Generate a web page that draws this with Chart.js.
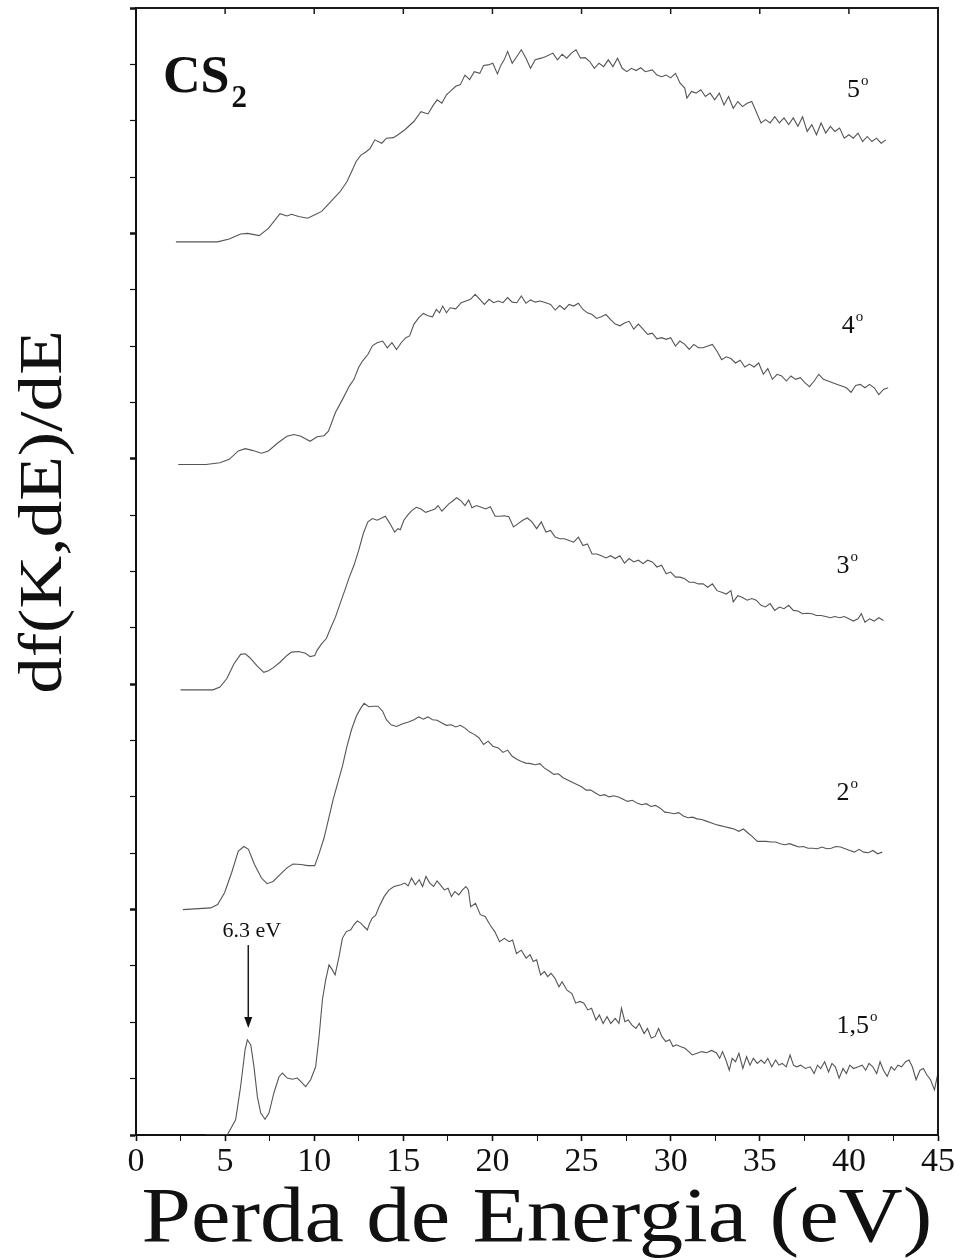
<!DOCTYPE html>
<html>
<head>
<meta charset="utf-8">
<script src="https://cdn.jsdelivr.net/npm/chart.js@4.4.0/dist/chart.umd.min.js"></script>
<style>
  html, body { margin: 0; padding: 0; background: #fff; }
  #c { display: block; }
</style>
</head>
<body>
<canvas id="c" width="955" height="1260"></canvas>
<script>
// spectra: [energy loss (eV), df/dE above own baseline]
var curve15 = [[3.9,0],[5.12,0],[5.59,0.27],[5.87,0.86],[6.12,1.51],[6.25,1.69],[6.44,1.6],[6.62,1.21],[6.81,0.68],[7.0,0.39],[7.24,0.28],[7.46,0.39],[7.74,0.75],[8.02,1.03],[8.21,1.1],[8.49,1.01],[8.77,0.99],[9.05,1.01],[9.24,0.95],[9.52,0.86],[9.8,0.98],[10.08,1.21],[10.27,1.74],[10.46,2.4],[10.64,2.75],[10.83,3.02],[11.02,2.93],[11.17,2.84],[11.39,3.16],[11.58,3.49],[11.8,3.61],[12.05,3.64],[12.23,3.73],[12.42,3.8],[12.61,3.76],[12.79,3.7],[12.98,3.64],[13.11,3.76],[13.26,3.85],[13.45,3.9],[13.64,4.05],[13.92,4.23],[14.2,4.35],[14.48,4.41],[14.86,4.44],[15.08,4.47],[15.27,4.42],[15.46,4.56],[15.67,4.44],[15.89,4.53],[16.08,4.41],[16.27,4.59],[16.48,4.47],[16.7,4.41],[16.89,4.51],[17.08,4.44],[17.3,4.35],[17.51,4.38],[17.7,4.23],[17.89,4.32],[18.11,4.26],[18.32,4.35],[18.51,4.41],[18.65,4.35],[18.78,4.05],[19.05,4.11],[19.32,3.91],[19.59,3.88],[19.86,3.73],[20.13,3.61],[20.4,3.43],[20.67,3.49],[20.94,3.43],[21.13,3.46],[21.35,3.22],[21.62,3.28],[21.89,3.14],[22.11,3.2],[22.29,3.08],[22.48,3.11],[22.7,2.84],[22.92,2.9],[23.1,2.81],[23.29,2.87],[23.51,2.78],[23.73,2.63],[23.91,2.72],[24.18,2.57],[24.46,2.51],[24.67,2.34],[24.91,2.37],[25.13,2.34],[25.35,2.22],[25.56,2.25],[25.81,2.04],[26.0,2.13],[26.21,1.98],[26.43,2.1],[26.64,1.98],[26.89,2.07],[27.1,1.98],[27.24,2.25],[27.43,2.01],[27.62,2.04],[27.83,1.95],[28.05,1.89],[28.24,1.98],[28.51,1.8],[28.7,1.89],[28.91,1.72],[29.13,1.75],[29.32,1.89],[29.51,1.75],[29.72,1.66],[29.94,1.69],[30.13,1.57],[30.32,1.6],[30.54,1.57],[30.8,1.54],[31.02,1.48],[31.21,1.42],[31.48,1.45],[31.75,1.48],[32.02,1.46],[32.29,1.5],[32.56,1.46],[32.75,1.36],[32.91,1.48],[33.1,1.33],[33.29,1.15],[33.45,1.36],[33.64,1.3],[33.83,1.45],[34.05,1.18],[34.26,1.39],[34.45,1.24],[34.64,1.36],[34.86,1.27],[35.07,1.33],[35.26,1.27],[35.45,1.36],[35.67,1.21],[35.89,1.33],[36.07,1.24],[36.26,1.27],[36.48,1.21],[36.7,1.42],[36.89,1.24],[37.07,1.21],[37.29,1.24],[37.56,1.18],[37.83,1.21],[38.05,1.09],[38.24,1.24],[38.42,1.18],[38.64,1.3],[38.86,1.12],[39.05,1.27],[39.24,1.21],[39.45,1.01],[39.67,1.18],[39.86,1.09],[40.05,1.24],[40.26,1.18],[40.53,1.21],[40.75,1.24],[40.94,1.15],[41.13,1.27],[41.34,1.21],[41.56,1.09],[41.75,1.3],[41.94,1.15],[42.15,1.04],[42.37,1.21],[42.56,1.15],[42.75,1.24],[42.96,1.21],[43.18,1.3],[43.37,1.33],[43.56,1.21],[43.77,0.98],[43.99,1.15],[44.18,1.18],[44.37,1.07],[44.58,0.98],[44.8,0.8],[44.99,1.09]];

var curve2 = [[2.63,0],[4.19,0.03],[4.58,0.09],[4.97,0.3],[5.36,0.65],[5.74,1.04],[6.06,1.12],[6.31,1.07],[6.65,0.8],[7.04,0.56],[7.35,0.46],[7.69,0.5],[8.08,0.62],[8.47,0.74],[8.81,0.81],[9.25,0.8],[9.64,0.78],[10.03,0.78],[10.29,1.01],[10.55,1.27],[10.8,1.6],[11.06,1.95],[11.32,2.25],[11.58,2.54],[11.84,2.9],[12.1,3.2],[12.36,3.43],[12.62,3.58],[12.8,3.66],[13.06,3.6],[13.32,3.61],[13.58,3.61],[13.84,3.52],[14.05,3.37],[14.31,3.28],[14.62,3.25],[14.96,3.3],[15.29,3.33],[15.6,3.37],[15.86,3.42],[16.12,3.38],[16.38,3.42],[16.64,3.37],[16.9,3.36],[17.16,3.31],[17.42,3.27],[17.68,3.28],[17.94,3.24],[18.2,3.27],[18.46,3.22],[18.72,3.15],[18.98,3.11],[19.24,3.05],[19.5,2.93],[19.76,2.99],[20.02,2.9],[20.33,2.87],[20.59,2.79],[20.85,2.83],[21.11,2.72],[21.37,2.67],[21.62,2.63],[21.88,2.6],[22.14,2.59],[22.4,2.57],[22.66,2.59],[22.92,2.51],[23.18,2.46],[23.44,2.4],[23.7,2.41],[23.96,2.34],[24.22,2.3],[24.48,2.26],[24.74,2.22],[25.0,2.18],[25.26,2.12],[25.52,2.12],[25.78,2.07],[26.04,2.02],[26.29,2.04],[26.55,2.0],[26.81,2.02],[27.07,2.0],[27.33,1.96],[27.59,1.92],[27.85,1.94],[28.11,1.89],[28.37,1.86],[28.63,1.88],[28.89,1.83],[29.15,1.85],[29.41,1.8],[29.67,1.73],[29.93,1.72],[30.19,1.7],[30.45,1.72],[30.71,1.66],[30.97,1.63],[31.23,1.64],[31.48,1.61],[31.74,1.6],[32.0,1.57],[32.26,1.54],[32.52,1.51],[32.78,1.49],[33.04,1.47],[33.3,1.45],[33.56,1.43],[33.82,1.39],[34.08,1.43],[34.34,1.36],[34.6,1.29],[34.86,1.21],[35.11,1.21],[35.37,1.21],[35.63,1.2],[35.89,1.2],[36.15,1.17],[36.41,1.15],[36.67,1.17],[36.93,1.14],[37.19,1.11],[37.45,1.12],[37.71,1.09],[37.97,1.09],[38.23,1.08],[38.49,1.11],[38.75,1.08],[39.01,1.09],[39.27,1.12],[39.53,1.11],[39.79,1.08],[40.05,1.05],[40.31,1.02],[40.57,1.07],[40.83,1.02],[41.09,1.01],[41.35,1.05],[41.61,0.99],[41.87,1.02]];

var curve3 = [[2.5,0],[4.32,0],[4.71,0.05],[5.1,0.2],[5.49,0.46],[5.87,0.63],[6.13,0.64],[6.39,0.57],[6.78,0.43],[7.17,0.31],[7.43,0.34],[7.69,0.39],[8.08,0.49],[8.47,0.61],[8.73,0.67],[9.12,0.68],[9.51,0.65],[9.77,0.59],[10.03,0.61],[10.16,0.7],[10.42,0.82],[10.68,0.91],[10.94,1.11],[11.19,1.29],[11.45,1.53],[11.71,1.76],[11.97,2.0],[12.23,2.21],[12.49,2.47],[12.75,2.77],[13.01,2.98],[13.27,3.04],[13.53,3.01],[13.79,3.05],[13.99,3.08],[14.25,2.95],[14.51,2.8],[14.7,2.86],[14.83,2.84],[15.03,3.01],[15.22,3.09],[15.47,3.18],[15.73,3.24],[15.99,3.21],[16.25,3.15],[16.51,3.18],[16.77,3.21],[16.95,3.27],[17.16,3.17],[17.37,3.24],[17.55,3.3],[17.81,3.36],[17.99,3.41],[18.25,3.35],[18.46,3.27],[18.67,3.37],[18.85,3.23],[19.11,3.27],[19.37,3.24],[19.63,3.21],[19.88,3.25],[20.15,3.08],[20.41,3.08],[20.66,3.09],[20.92,3.07],[21.18,2.89],[21.44,2.95],[21.7,3.01],[21.96,3.05],[22.22,2.98],[22.48,2.86],[22.74,2.98],[23.0,2.8],[23.26,2.83],[23.52,2.71],[23.78,2.68],[24.04,2.68],[24.3,2.65],[24.56,2.62],[24.82,2.71],[25.08,2.56],[25.33,2.59],[25.59,2.41],[25.85,2.41],[26.11,2.38],[26.37,2.34],[26.63,2.38],[26.89,2.33],[27.15,2.38],[27.41,2.25],[27.67,2.33],[27.93,2.27],[28.19,2.3],[28.45,2.24],[28.71,2.3],[28.97,2.27],[29.23,2.18],[29.49,2.21],[29.75,2.06],[30.0,2.09],[30.27,2.0],[30.52,2.0],[30.79,1.97],[31.04,1.91],[31.3,1.91],[31.56,1.88],[31.82,1.88],[32.08,1.82],[32.34,1.88],[32.6,1.76],[32.86,1.73],[33.12,1.7],[33.38,1.76],[33.51,1.56],[33.77,1.67],[34.03,1.64],[34.29,1.59],[34.55,1.62],[34.8,1.59],[35.07,1.5],[35.32,1.47],[35.58,1.53],[35.84,1.41],[36.1,1.47],[36.36,1.44],[36.62,1.5],[36.88,1.41],[37.14,1.4],[37.4,1.35],[37.66,1.36],[37.92,1.35],[38.18,1.32],[38.44,1.32],[38.7,1.3],[38.96,1.28],[39.21,1.3],[39.48,1.28],[39.74,1.3],[40.0,1.26],[40.25,1.22],[40.51,1.26],[40.7,1.35],[40.9,1.2],[41.16,1.26],[41.42,1.22],[41.68,1.28],[41.94,1.23]];

var curve4 = [[2.37,0],[3.93,0],[4.71,0.03],[5.23,0.09],[5.74,0.24],[6.13,0.28],[6.52,0.25],[7.04,0.2],[7.43,0.24],[7.95,0.38],[8.47,0.5],[8.86,0.53],[9.25,0.5],[9.77,0.41],[10.16,0.49],[10.55,0.51],[10.8,0.59],[11.19,0.92],[11.58,1.15],[11.97,1.39],[12.23,1.51],[12.49,1.72],[12.7,1.83],[13.01,1.95],[13.27,2.11],[13.53,2.16],[13.84,2.19],[14.1,2.07],[14.36,2.16],[14.62,2.04],[14.88,2.16],[15.14,2.25],[15.35,2.28],[15.6,2.49],[15.86,2.6],[16.12,2.68],[16.38,2.64],[16.64,2.62],[16.85,2.75],[17.03,2.69],[17.21,2.81],[17.42,2.69],[17.63,2.78],[17.94,2.76],[18.25,2.87],[18.51,2.9],[18.77,2.93],[19.03,3.02],[19.29,2.93],[19.55,2.84],[19.81,2.93],[20.07,2.87],[20.33,2.9],[20.59,2.87],[20.85,2.96],[21.11,2.88],[21.37,2.87],[21.62,2.99],[21.88,2.86],[22.14,2.92],[22.4,2.88],[22.66,2.9],[23.0,2.87],[23.26,2.84],[23.52,2.74],[23.78,2.82],[24.04,2.75],[24.3,2.84],[24.56,2.81],[24.82,2.86],[25.08,2.75],[25.33,2.69],[25.59,2.66],[25.85,2.59],[26.11,2.62],[26.37,2.66],[26.63,2.57],[26.89,2.49],[27.15,2.46],[27.41,2.51],[27.67,2.54],[27.93,2.4],[28.19,2.49],[28.45,2.4],[28.71,2.31],[28.97,2.33],[29.23,2.23],[29.49,2.25],[29.75,2.22],[30.0,2.25],[30.27,2.1],[30.52,2.19],[30.79,2.13],[31.04,2.04],[31.3,2.13],[31.56,2.07],[31.82,2.07],[32.08,2.1],[32.34,2.13],[32.6,2.01],[32.86,1.86],[33.12,1.91],[33.38,1.88],[33.64,1.8],[33.9,1.85],[34.16,1.73],[34.42,1.78],[34.68,1.73],[34.94,1.8],[35.2,1.6],[35.45,1.7],[35.71,1.51],[35.97,1.6],[36.23,1.57],[36.49,1.48],[36.75,1.57],[37.01,1.51],[37.27,1.54],[37.53,1.45],[37.79,1.38],[38.05,1.48],[38.31,1.6],[38.57,1.51],[38.83,1.48],[39.09,1.45],[39.35,1.42],[39.6,1.39],[39.86,1.36],[40.12,1.28],[40.38,1.4],[40.64,1.42],[40.9,1.36],[41.16,1.42],[41.42,1.36],[41.68,1.24],[41.94,1.33],[42.2,1.36]];

var curve5 = [[2.24,0],[3.41,0],[4.58,0],[5.23,0.05],[5.87,0.14],[6.26,0.15],[6.91,0.11],[7.43,0.24],[8.08,0.5],[8.47,0.46],[8.73,0.49],[9.12,0.45],[9.64,0.42],[10.03,0.48],[10.42,0.54],[10.94,0.72],[11.45,0.89],[11.84,1.07],[12.1,1.25],[12.36,1.43],[12.62,1.54],[12.88,1.59],[13.14,1.66],[13.4,1.81],[13.79,1.75],[14.05,1.84],[14.44,1.85],[14.7,1.9],[15.09,1.99],[15.6,2.14],[15.99,2.31],[16.38,2.27],[16.69,2.43],[16.9,2.52],[17.16,2.46],[17.42,2.61],[17.63,2.67],[17.94,2.76],[18.2,2.79],[18.46,2.96],[18.72,2.88],[18.98,3.02],[19.29,2.99],[19.5,3.13],[19.76,3.14],[20.02,3.17],[20.28,2.98],[20.48,3.14],[20.66,3.23],[20.85,3.38],[21.11,3.17],[21.37,3.29],[21.62,3.41],[21.88,3.26],[22.14,3.08],[22.4,3.23],[22.74,3.26],[23.0,3.29],[23.39,3.35],[23.65,3.23],[23.91,3.33],[24.17,3.26],[24.43,3.35],[24.69,3.41],[24.94,3.26],[25.2,3.27],[25.46,3.2],[25.72,3.08],[25.98,3.17],[26.24,3.11],[26.5,3.23],[26.76,3.11],[27.02,3.26],[27.28,3.08],[27.54,3.02],[27.8,3.08],[28.06,3.04],[28.32,3.09],[28.58,3.02],[28.97,3.05],[29.23,2.96],[29.49,2.93],[29.75,2.96],[30.0,2.91],[30.27,2.99],[30.52,2.82],[30.79,2.73],[30.91,2.55],[31.17,2.67],[31.43,2.64],[31.69,2.7],[31.95,2.58],[32.21,2.64],[32.47,2.52],[32.73,2.64],[32.99,2.43],[33.25,2.58],[33.51,2.37],[33.77,2.49],[34.03,2.4],[34.29,2.46],[34.55,2.49],[34.8,2.31],[35.07,2.11],[35.32,2.17],[35.58,2.11],[35.84,2.22],[36.1,2.11],[36.36,2.2],[36.62,2.08],[36.88,2.2],[37.14,2.05],[37.4,2.22],[37.66,1.96],[37.92,2.08],[38.18,1.9],[38.44,2.11],[38.7,1.93],[38.96,2.05],[39.21,1.96],[39.48,2.02],[39.74,1.84],[40.0,1.9],[40.25,1.84],[40.51,1.93],[40.77,1.78],[41.03,1.87],[41.29,1.78],[41.55,1.84],[41.81,1.75],[42.07,1.81]];

var angles = ['1,5', '2', '3', '4', '5'];
var offsets = [0, 4, 7.9, 11.9, 15.85];
var xTicks = [0, 5, 10, 15, 20, 25, 30, 35, 40, 45];

// where the angle labels sit: [energy, df/dE] of the left end of the baseline
var anglePos = [[39.3, 1.81], [39.3, 5.95], [39.3, 9.97], [39.6, 14.23], [39.9, 18.42]];

var curves = [curve15, curve2, curve3, curve4, curve5];
var datasets = curves.map(function (c, i) {
    return {
        label: angles[i] + '°',
        data: c.map(function (p) { return { x: p[0], y: p[1] + offsets[i] }; }),
        borderColor: '#555',
        borderWidth: 1.1,
        pointRadius: 0,
        tension: 0,
        fill: false
    };
});

var decor = {
    id: 'decor',
    afterDraw: function (chart) {
        var ctx = chart.ctx, a = chart.chartArea;
        var sx = chart.scales.x, sy = chart.scales.y;
        ctx.save();
        ctx.strokeStyle = '#1a1a1a';
        ctx.fillStyle = '#111';

        // top and right frame
        ctx.lineWidth = 2;
        ctx.beginPath();
        ctx.moveTo(a.left, a.top);
        ctx.lineTo(a.right, a.top);
        ctx.lineTo(a.right, a.bottom);
        ctx.stroke();

        // small inward ticks on top
        ctx.lineWidth = 1.5;
        xTicks.forEach(function (v) {
            if (v === 0 || v === 45) return;
            var px = sx.getPixelForValue(v);
            ctx.beginPath();
            ctx.moveTo(px, a.top);
            ctx.lineTo(px, a.top + 6);
            ctx.stroke();
        });

        // axis titles
        ctx.textAlign = 'center';
        ctx.textBaseline = 'alphabetic';
        ctx.save();
        ctx.translate(61, 512);
        ctx.rotate(-Math.PI / 2);
        ctx.scale(1.18, 1);
        ctx.font = '62px "Liberation Serif"';
        ctx.fillText('df(K,dE)/dE', 0, 0);
        ctx.restore();

        ctx.save();
        ctx.translate(537, 1241);
        ctx.scale(1.14, 1);
        ctx.font = '78px "Liberation Serif"';
        ctx.fillText('Perda de Energia (eV)', 0, 0);
        ctx.restore();

        // CS2
        ctx.textAlign = 'left';
        ctx.font = 'bold 52px "Liberation Serif"';
        ctx.fillText('CS', 163, 92);
        var w = ctx.measureText('CS').width;
        ctx.font = 'bold 31px "Liberation Serif"';
        ctx.fillText('2', 163 + w + 2, 107);

        // scattering angle labels
        angles.forEach(function (t, i) {
            var px = sx.getPixelForValue(anglePos[i][0]);
            var py = sy.getPixelForValue(anglePos[i][1]);
            ctx.font = '26px "Liberation Serif"';
            ctx.fillText(t, px, py);
            var tw = ctx.measureText(t).width;
            ctx.font = '15px "Liberation Serif"';
            ctx.fillText('o', px + tw + 1, py - 12);
        });

        // 6.3 eV marker
        var ax = sx.getPixelForValue(6.3);
        var y0 = sy.getPixelForValue(3.37), y1 = sy.getPixelForValue(1.9);
        ctx.textAlign = 'center';
        ctx.font = '22px "Liberation Serif"';
        ctx.fillText('6.3 eV', sx.getPixelForValue(6.5), sy.getPixelForValue(3.52));
        ctx.lineWidth = 1.5;
        ctx.beginPath();
        ctx.moveTo(ax, y0);
        ctx.lineTo(ax, y1 - 8);
        ctx.stroke();
        ctx.beginPath();
        ctx.moveTo(ax, y1);
        ctx.lineTo(ax - 4, y1 - 11);
        ctx.lineTo(ax + 4, y1 - 11);
        ctx.closePath();
        ctx.fill();
        ctx.restore();
    }
};

Chart.defaults.font.family = '"Liberation Serif"';
Chart.defaults.color = '#111';

new Chart(document.getElementById('c'), {
    type: 'line',
    data: { datasets: datasets },
    options: {
        responsive: false,
        animation: false,
        devicePixelRatio: 1,
        layout: { padding: { top: 8, right: 17, left: 0, bottom: 0 } },
        plugins: { legend: { display: false }, tooltip: { enabled: false } },
        scales: {
            x: {
                type: 'linear',
                min: 0,
                max: 45,
                ticks: {
                    stepSize: 2.5,
                    autoSkip: false,
                    maxRotation: 0,
                    padding: 1,
                    font: { size: 34 },
                    callback: function (v) { return xTicks.indexOf(v) >= 0 ? String(v) : ''; }
                },
                grid: {
                    drawOnChartArea: false,
                    tickLength: 6,
                    tickColor: '#111',
                    tickWidth: function (c) { return c.tick && c.tick.value % 5 === 0 ? 1.6 : 1; }
                },
                border: { color: '#111', width: 2 },
                afterFit: function (s) { s.height = 125; s.paddingLeft = 0; s.paddingRight = 0; }
            },
            y: {
                min: 0,
                max: 20,
                ticks: { stepSize: 1, display: false },
                grid: {
                    drawOnChartArea: false,
                    tickLength: 6,
                    tickColor: '#111',
                    tickWidth: function (c) { return c.tick && c.tick.value % 4 === 0 ? 2.5 : 1.2; }
                },
                border: { color: '#111', width: 2 },
                afterFit: function (s) { s.width = 136; }
            }
        }
    },
    plugins: [decor]
});
</script>
</body>
</html>
